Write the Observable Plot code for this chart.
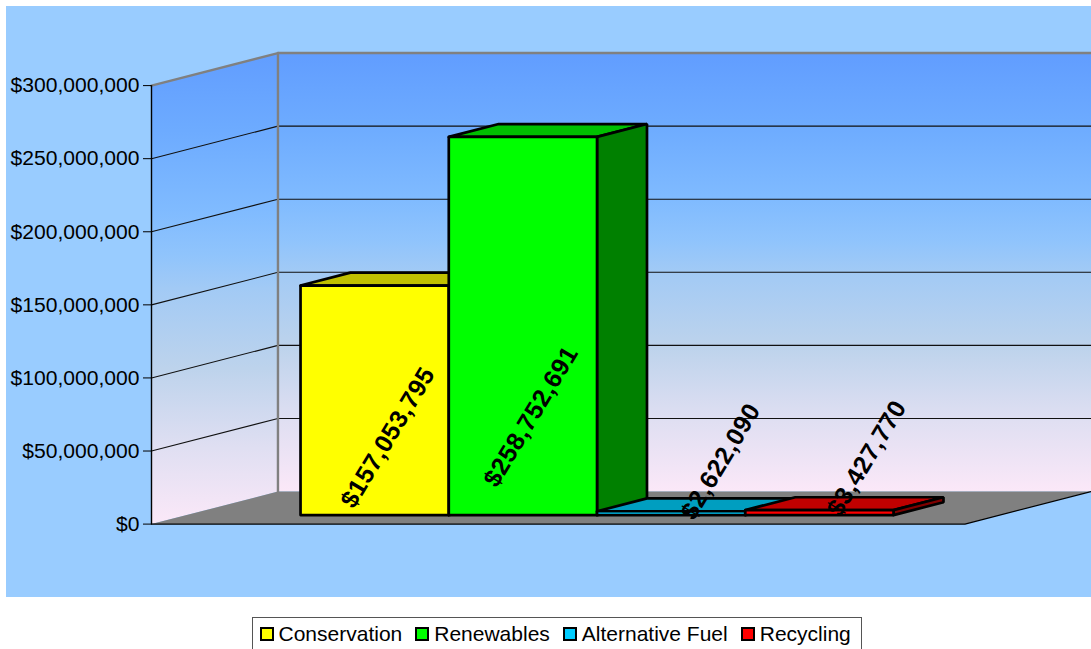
<!DOCTYPE html>
<html>
<head>
<meta charset="utf-8">
<script src="https://cdn.jsdelivr.net/npm/d3@7"></script>
<script src="https://cdn.jsdelivr.net/npm/@observablehq/plot@0.6"></script>
<style>
html,body{margin:0;padding:0;background:#fff;overflow:hidden;height:649px}
svg{display:block}
g[aria-label="text"] text{letter-spacing:.5px}
#legend{position:absolute;left:252px;top:617px;width:610px;height:34px;box-sizing:border-box;border:1px solid #555;background:#fff;display:flex;align-items:center;padding-left:6.5px;gap:13px;font:21px "Liberation Sans",Arial,sans-serif;color:#000}
#legend .item{display:flex;align-items:center;gap:5px;white-space:nowrap}
#legend .sw{width:10px;height:10px;border:2.5px solid #000;display:inline-block}
</style>
</head>
<body>
<div id="chart"></div>
<div id="legend"></div>
<script>
// Data
const categories = ["Conservation", "Renewables", "Alternative Fuel", "Recycling"];
const amounts = [157053795, 258752691, 2622090, 3427770];
const amountLabels = ["$157,053,795", "$258,752,691", "$2,622,090", "$3,427,770"];
const frontColors = ["#ffff00", "#00ff00", "#00ccff", "#ff0000"];
const topColors = ["#c0c000", "#00c000", "#009ec0", "#c00000"];
const sideColors = ["#808000", "#008000", "#007f9f", "#800000"];
const axisTicks = [0, 50e6, 100e6, 150e6, 200e6, 250e6, 300e6];

// Chart geometry, in data units (x: bar widths, y: dollars, z: 0 front .. 1 back wall)
const yMax = 300e6;
const floorWidth = 5.487;
const depthX = 0.853;     // bar widths moved per unit of depth
const depthY = 22.26e6;   // dollars moved per unit of depth
const barStart = 0.769;
const barFrontZ = 0.277;
const barBackZ = 0.672;
const labelU = [1.595, 2.56, 3.84, 4.825];
const labelY = [59.2e6, 73.6e6, 42.8e6, 44.9e6];
const labelAngle = -59;

const P = (u, v, z = 0) => ({x: u + z * depthX, y: v + z * depthY});
const closed = (pts) => [...pts, pts[0]];
const face = (pts, fill, stroke = "#000", strokeWidth = 2.7) =>
  Plot.line(closed(pts), {x: "x", y: "y", fill, stroke, strokeWidth, strokeLinejoin: "miter"});
const edge = (pts, stroke, strokeWidth) =>
  Plot.line(pts, {x: "x", y: "y", stroke, strokeWidth, fill: "none"});

const wallStops = [
  [0, "#619dff"], [16.5, "#6dabff"], [33.7, "#80bbff"], [43, "#90c4fc"],
  [50, "#a2caf5"], [67, "#bdd3ec"], [84, "#e0dff2"], [100, "#fbe8f8"]
];
const defs = () => {
  const d = d3.create("svg:defs");
  const g = d.append("linearGradient").attr("id", "wall").attr("x1", 0).attr("x2", 0).attr("y1", 0).attr("y2", 1);
  for (const [o, c] of wallStops) g.append("stop").attr("offset", o + "%").attr("stop-color", c);
  return d.node();
};

// Right end of the back wall is cut by the chart area
const xMaxData = (1091 - 151.5) / 148.25;
const backRight = xMaxData - depthX;

const marks = [
  defs,
  Plot.frame({fill: "#99ccff", stroke: "none"}),
  // side wall and back wall
  face([P(0, 0), P(0, yMax), P(0, yMax, 1), P(0, 0, 1)], "url(#wall)", "none", 0),
  face([P(0, 0, 1), P(0, yMax, 1), P(backRight, yMax, 1), P(backRight, 0, 1)], "url(#wall)", "none", 0),
  // floor
  face([P(0, 0), P(floorWidth, 0), P(backRight, 0, 1), P(0, 0, 1)], "#808080", "none", 0),
  edge([P(0, 0), P(floorWidth, 0), P(backRight, 0, 1)], "#000", 1.2),
  // gridlines
  ...axisTicks.filter(t => t > 0 && t < yMax).map(t =>
    edge([P(0, t), P(0, t, 1), P(backRight, t, 1)], "#111", 1.1)),
  // wall frame
  edge([P(0, yMax), P(0, yMax, 1), P(backRight, yMax, 1)], "#808080", 2.4),
  edge([P(0, 0, 1), P(0, yMax, 1)], "#808080", 2.4),
  edge([P(0, 0), P(0, yMax)], "#000", 1.4),
  // bars
  ...amounts.flatMap((v, i) => {
    const a = barStart + i, b = a + 1, f = barFrontZ, k = barBackZ;
    return [
      face([P(a, v, f), P(b, v, f), P(b, v, k), P(a, v, k)], topColors[i]),
      face([P(b, 0, f), P(b, v, f), P(b, v, k), P(b, 0, k)], sideColors[i]),
      face([P(a, 0, f), P(b, 0, f), P(b, v, f), P(a, v, f)], frontColors[i])
    ];
  }),
  Plot.axisY(axisTicks, {
    x: 0, anchor: "left", tickSize: 8, tickPadding: 4, fontSize: 21.1,
    tickFormat: d3.format("$,.0f"), label: null, stroke: "#000"
  }),
  Plot.text(amountLabels, {
    x: (d, i) => labelU[i], y: (d, i) => labelY[i], text: d => d,
    rotate: labelAngle, fontSize: 25, fontWeight: "bold", fill: "#000",
    textAnchor: "middle", lineAnchor: "middle"
  })
];

const chart = Plot.plot({
  width: 1091, height: 597,
  marginLeft: 5.5, marginTop: 5.5, marginRight: 0, marginBottom: 0.5,
  style: {fontFamily: '"Liberation Sans",Arial,sans-serif', background: "#fff", overflow: "visible"},
  x: {domain: [-151.5 / 148.25, xMaxData], range: [-0.5, 1090.5], axis: null},
  y: {domain: [0, yMax], range: [523.6, 85.1], axis: null},
  marks
});
document.getElementById("chart").append(chart);

const legend = d3.select("#legend");
categories.forEach((c, i) => {
  const it = legend.append("div").attr("class", "item");
  it.append("span").attr("class", "sw").style("background", frontColors[i]);
  it.append("span").text(c);
});
</script>
</body>
</html>
